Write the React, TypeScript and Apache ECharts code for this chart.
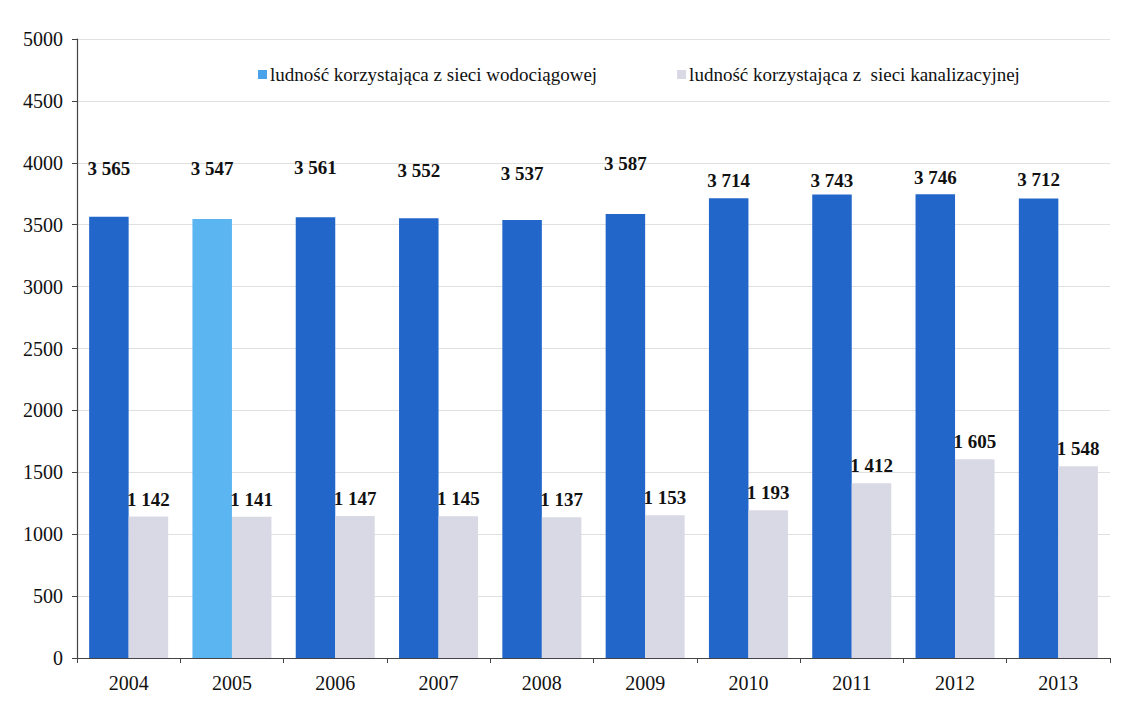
import React, { useEffect, useRef } from "react";
import * as echarts from "echarts";

const years = ["2004", "2005", "2006", "2007", "2008", "2009", "2010", "2011", "2012", "2013"];
const water = [3565, 3547, 3561, 3552, 3537, 3587, 3714, 3743, 3746, 3712];
const sewage = [1142, 1141, 1147, 1145, 1137, 1153, 1193, 1412, 1605, 1548];
const waterName = "ludność korzystająca z sieci wodociągowej";
const sewageName = "ludność korzystająca z  sieci kanalizacyjnej";
// label lift above the default "top" position (px), as drawn in the reference
const waterLabelLift = [34, 36, 35, 33, 32, 36, 3, 0, 2, 4];
const highlightIndex = 1;

const fmt = (v: number) => {
  const s = String(Math.round(v));
  return s.replace(/\B(?=(\d{3})+(?!\d))/g, " ");
};

const FONT = "'Liberation Serif', 'Times New Roman', serif";

export default function App() {
  const ref = useRef<HTMLDivElement>(null);
  useEffect(() => {
    if (!ref.current) return;
    const chart = echarts.init(ref.current, null, { renderer: "svg" });
    chart.setOption({
      animation: false,
      backgroundColor: "#ffffff",
      textStyle: { fontFamily: FONT },
      legend: {
        left: 253,
        top: 60,
        itemWidth: 9,
        itemHeight: 9,
        itemGap: 80,
        icon: "rect",
        textStyle: { fontFamily: FONT, fontSize: 19, color: "#111", padding: [0, 0, 0, -2] },
        data: [
          { name: waterName, itemStyle: { color: "#4aa3ea" } },
          { name: sewageName, itemStyle: { color: "#d9d9e6" } },
        ],
      },
      grid: { left: 77, right: 24, top: 39, bottom: 50, containLabel: false },
      xAxis: {
        type: "category",
        data: years,
        axisLine: { lineStyle: { color: "#444", width: 1.2 } },
        axisTick: { show: true, alignWithLabel: false, length: 5, lineStyle: { color: "#444" } },
        axisLabel: { fontFamily: FONT, fontSize: 20, color: "#111", margin: 15 },
      },
      yAxis: {
        type: "value",
        min: 0,
        max: 5000,
        interval: 500,
        axisLine: { show: true, lineStyle: { color: "#444", width: 1.2 } },
        axisTick: { show: true, length: 5, lineStyle: { color: "#444" } },
        axisLabel: {
          fontFamily: FONT,
          fontSize: 20,
          color: "#111",
          margin: 14,
          formatter: (v: number) => String(v),
        },
        splitLine: { show: true, lineStyle: { color: "#e0e0e0", width: 1 } },
      },
      series: [
        {
          name: waterName,
          type: "bar",
          barGap: "0%",
          barCategoryGap: "23.5%",
          itemStyle: { color: "#2266c9" },
          data: water.map((v, i) => ({
            value: v,
            itemStyle: i === highlightIndex ? { color: "#5ab5f1" } : undefined,
            label: { offset: [0, -waterLabelLift[i]] },
          })),
          label: {
            show: true,
            position: "top",
            distance: 5,
            fontFamily: FONT,
            fontSize: 19,
            fontWeight: "bold",
            color: "#111",
            formatter: (p: any) => fmt(p.value),
          },
        },
        {
          name: sewageName,
          type: "bar",
          itemStyle: { color: "#d9d9e6" },
          data: sewage,
          label: {
            show: true,
            position: "top",
            distance: 8,
            fontFamily: FONT,
            fontSize: 19,
            fontWeight: "bold",
            color: "#111",
            formatter: (p: any) => fmt(p.value),
          },
        },
      ],
    });
    return () => chart.dispose();
  }, []);
  return (
    <div
      ref={ref}
      style={{ position: "fixed", left: 0, top: 0, width: 1134, height: 708 }}
    />
  );
}
